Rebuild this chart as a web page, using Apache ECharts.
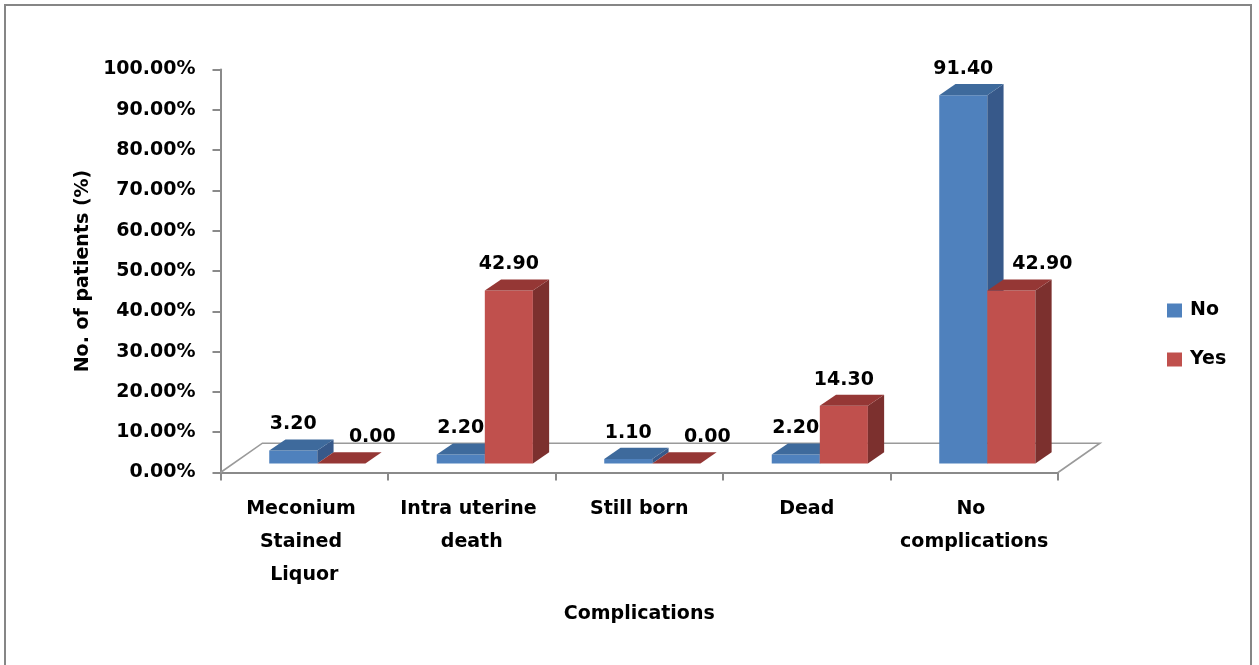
<!DOCTYPE html>
<html>
<head>
<meta charset="utf-8">
<script src="https://cdn.jsdelivr.net/npm/echarts@6/dist/echarts.min.js"></script>
<style>
html,body{margin:0;padding:0;background:#fff;}
#chart{width:1259px;height:665px;}
</style>
</head>
<body>
<div id="chart"></div>
<script>
const categories = ['Meconium Stained Liquor', 'Intra uterine death', 'Still born', 'Dead', 'No complications'];
const seriesNames = ['No', 'Yes'];
const noValues = [3.2, 2.2, 1.1, 2.2, 91.4];
const yesValues = [0.0, 42.9, 0.0, 14.3, 42.9];
const yMin = 0, yMax = 100, yInterval = 10;
const xAxisTitle = 'Complications';
const yAxisTitle = 'No. of patients (%)';

const FONT = 'DejaVu Sans';
const palette = [
  {front: '#4F81BD', top: '#3E6A9C', side: '#37598A'},
  {front: '#C0504D', top: '#953735', side: '#7C302E'}
];
const allValues = [noValues, yesValues];

function makeRender(sIdx) {
  const col = palette[sIdx];
  const other = allValues[1 - sIdx];
  return function (params, api) {
    const ci = api.value(0), v = api.value(1);
    const base = api.coord([ci, 0]);
    const top = api.coord([ci, v]);
    const bw = api.size([1, 0])[0];
    const w = bw * 0.287;
    const ox = bw * 0.078, oy = -ox * 0.69;
    const sx = bw * 0.097, sy = -sx * 0.69;
    const x0 = base[0] + ox + (sIdx === 0 ? -w : 0);
    const x1 = x0 + w;
    const yb = base[1] + oy, yt = top[1] + oy;
    let lx = (x0 + x1) / 2;
    if (sIdx === 1 && other[ci] > v) lx += bw * 0.185;
    const ly = yt + sy - 15;
    return {
      type: 'group',
      children: [
        {type: 'rect', shape: {x: x0, y: yt, width: w, height: yb - yt}, style: {fill: col.front}},
        {type: 'polygon', shape: {points: [[x1, yb], [x1 + sx, yb + sy], [x1 + sx, yt + sy], [x1, yt]]}, style: {fill: col.side}},
        {type: 'polygon', shape: {points: [[x0, yt], [x1, yt], [x1 + sx, yt + sy], [x0 + sx, yt + sy]]}, style: {fill: col.top}},
        {type: 'text', x: lx, y: ly, style: {text: v.toFixed(2), fill: '#000', font: 'bold 19px "' + FONT + '"', align: 'center', verticalAlign: 'middle'}, z2: 100}
      ]
    };
  };
}

function floorRender(params, api) {
  const bw = api.size([1, 0])[0];
  const p0 = api.coord([0, 0]);
  const pn = api.coord([categories.length - 1, 0]);
  const left = p0[0] - bw / 2, right = pn[0] + bw / 2, y = p0[1];
  const dx = bw * 0.25, dy = -dx * 0.70;
  return {
    type: 'polyline',
    shape: {points: [[left, y], [left + dx, y + dy], [right + dx, y + dy], [right, y]]},
    style: {stroke: '#9a9a9a', lineWidth: 1.6, fill: null}
  };
}

const chart = echarts.init(document.getElementById('chart'), null, {renderer: 'canvas'});
const txt = {fontFamily: FONT, fontWeight: 'bold', fontSize: 19, color: '#000'};

chart.setOption({
  animation: false,
  backgroundColor: '#fff',
  graphic: [{
    type: 'rect', shape: {x: 5, y: 5, width: 1246, height: 700},
    style: {fill: null, stroke: '#868686', lineWidth: 2}, silent: true, z: -10
  }],
  grid: {left: 220.5, right: 201, top: 69.5, bottom: 192.5, containLabel: false},
  legend: {
    data: seriesNames, orient: 'vertical', left: 1162, top: 296,
    itemWidth: 15, itemHeight: 14, itemGap: 30, icon: 'rect',
    textStyle: Object.assign({padding: [0, 0, 0, 3]}, txt), selectedMode: false
  },
  xAxis: {
    type: 'category', data: categories, boundaryGap: true,
    axisLine: {show: true, lineStyle: {color: '#8a8a8a', width: 2}},
    axisTick: {show: true, length: 8, lineStyle: {color: '#8a8a8a', width: 2}},
    axisLabel: Object.assign({margin: 20, width: 150, overflow: 'break', lineHeight: 33, interval: 0, align: 'center'}, txt),
    name: xAxisTitle, nameLocation: 'middle', nameGap: 132,
    nameTextStyle: Object.assign({}, txt),
    splitLine: {show: false}
  },
  yAxis: {
    type: 'value', min: yMin, max: yMax, interval: yInterval,
    axisLine: {show: true, lineStyle: {color: '#8a8a8a', width: 2}},
    axisTick: {show: true, length: 8, lineStyle: {color: '#8a8a8a', width: 2}},
    axisLabel: Object.assign({margin: 25, formatter: v => v.toFixed(2) + '%'}, txt),
    splitLine: {show: false},
    name: yAxisTitle, nameLocation: 'middle', nameGap: 125, nameRotate: 90,
    nameTextStyle: Object.assign({}, txt)
  },
  series: [
    {type: 'custom', name: '_floor', data: [[0, 0]], renderItem: floorRender, silent: true, z: 1, encode: {x: 0, y: 1}},
    {type: 'custom', name: seriesNames[0], itemStyle: {color: palette[0].front},
     data: noValues.map((v, i) => [i, v]), renderItem: makeRender(0), encode: {x: 0, y: 1}, z: 2},
    {type: 'custom', name: seriesNames[1], itemStyle: {color: palette[1].front},
     data: yesValues.map((v, i) => [i, v]), renderItem: makeRender(1), encode: {x: 0, y: 1}, z: 3}
  ]
});
</script>
</body>
</html>
